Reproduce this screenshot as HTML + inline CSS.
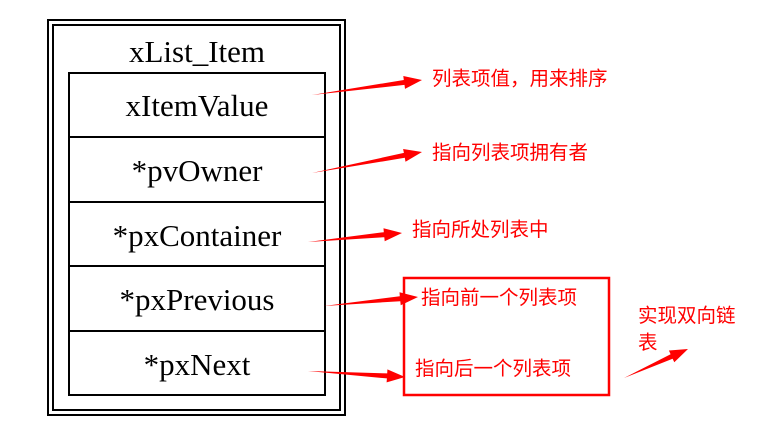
<!DOCTYPE html>
<html><head><meta charset="utf-8"><style>
body{margin:0;background:#fff;width:768px;height:427px;overflow:hidden}
svg{position:absolute;left:0;top:0}
.t{font-family:"Liberation Serif",serif;font-size:31px;fill:#000}
.c{font-family:"Liberation Sans","Noto Sans CJK SC",sans-serif;font-size:19.5px;fill:#f00}
</style></head><body>
<svg id="s" width="768" height="427" xmlns="http://www.w3.org/2000/svg">
<rect x="48" y="20" width="297" height="395" fill="none" stroke="#000" stroke-width="2"/>
<rect x="53" y="25" width="287" height="385" fill="none" stroke="#000" stroke-width="2"/>
<text class="t" x="197" y="62" text-anchor="middle">xList_Item</text>
<g fill="none" stroke="#000" stroke-width="2">
<rect x="69" y="73" width="256" height="322"/>
<line x1="69" y1="137" x2="325" y2="137"/>
<line x1="69" y1="202" x2="325" y2="202"/>
<line x1="69" y1="266" x2="325" y2="266"/>
<line x1="69" y1="331" x2="325" y2="331"/>
</g>
<text class="t" x="197" y="116" text-anchor="middle">xItemValue</text>
<text class="t" x="197" y="181" text-anchor="middle">*pvOwner</text>
<text class="t" x="197" y="246" text-anchor="middle">*pxContainer</text>
<text class="t" x="197" y="310" text-anchor="middle">*pxPrevious</text>
<text class="t" x="197" y="375" text-anchor="middle">*pxNext</text>
<rect x="404" y="278" width="205" height="117" fill="none" stroke="#f00" stroke-width="2.5"/>
<text class="c" x="432" y="85">列表项值，用来排序</text>
<text class="c" x="432" y="159">指向列表项拥有者</text>
<text class="c" x="412" y="236">指向所处列表中</text>
<text class="c" x="421" y="304">指向前一个列表项</text>
<text class="c" x="415" y="375">指向后一个列表项</text>
<text class="c" x="638" y="322">实现双向链</text>
<text class="c" x="638" y="349">表</text>
<g id="a" fill="#f00"></g>
</svg>
<script>
var A=[[312,95,422,80],[312,173,422,152],[308,242,402,233],[324,306,418,297],[308,371,405,377],[624,378,688,349]];
var g=document.getElementById('a'),s='';
A.forEach(function(p){var dx=p[2]-p[0],dy=p[3]-p[1],L=Math.hypot(dx,dy),ux=dx/L,uy=dy/L,nx=-uy,ny=ux,h=18;
var bx=p[2]-ux*h,by=p[3]-uy*h;
function pt(x,y){return x.toFixed(1)+','+y.toFixed(1)}
s+='<polygon points="'+[pt(p[0],p[1]),pt(bx+nx*2.5,by+ny*2.5),pt(bx+nx*6.5,by+ny*6.5),pt(p[2],p[3]),pt(bx-nx*6.5,by-ny*6.5),pt(bx-nx*2.5,by-ny*2.5)].join(' ')+'"/>';});
g.innerHTML=s;
</script>
</body></html>
